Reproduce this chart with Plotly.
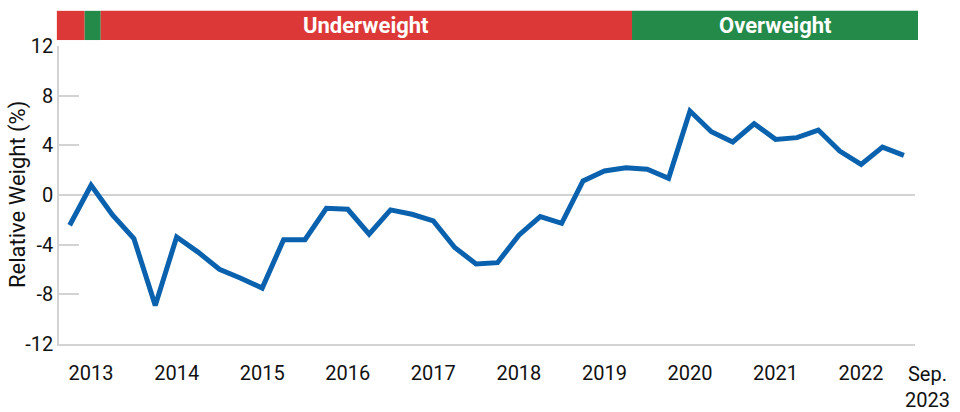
import plotly.graph_objects as go

# ---- data ----
x_idx = list(range(40))
rel_weight = [-2.44, 0.78, -1.6, -3.5, -8.9, -3.38, -4.6, -5.98, -6.7, -7.5,
              -3.6, -3.6, -1.07, -1.15, -3.16, -1.2, -1.55, -2.09, -4.23, -5.55,
              -5.45, -3.24, -1.74, -2.28, 1.13, 1.93, 2.2, 2.07, 1.34, 6.76,
              5.1, 4.27, 5.74, 4.48, 4.62, 5.23, 3.54, 2.47, 3.86, 3.19]
year_tick_pos = [1, 5, 9, 13, 17, 21, 25, 29, 33, 37]
year_tick_text = ["2013", "2014", "2015", "2016", "2017", "2018", "2019", "2020", "2021", "2022"]
last_label_pos = 40.1
last_label_text = "Sep.<br>2023"
y_ticks = [-12, -8, -4, 0, 4, 8, 12]

# band segments: (start, end, colour, label)
band_starts = [-0.6, 0.70, 1.45, 26.29]
band_ends = [0.70, 1.45, 26.29, 39.66]
band_colors = ["#DD3838", "#238A4A", "#DD3838", "#238A4A"]
band_labels = ["", "", "Underweight", "Overweight"]

FONT = "Roboto"
X_RANGE = [-0.5, 39.52]


def to_paper(v):
    return (v - X_RANGE[0]) / (X_RANGE[1] - X_RANGE[0])


fig = go.Figure()
fig.add_trace(go.Scatter(
    x=x_idx, y=rel_weight, mode="lines",
    line=dict(color="#0A61AD", width=5),
    hoverinfo="skip", showlegend=False,
))

shapes = []
annotations = []
for s, e, c, lab in zip(band_starts, band_ends, band_colors, band_labels):
    shapes.append(dict(type="rect", xref="paper", yref="paper", x0=to_paper(s), x1=to_paper(e),
                       y0=1.02, y1=1.118, fillcolor=c, line=dict(width=0), layer="above"))
    if lab:
        annotations.append(dict(x=to_paper((s + e) / 2), xref="paper", y=1.069, yref="paper",
                                text="<b>" + lab + "</b>", showarrow=False,
                                font=dict(family=FONT, size=22, color="white"),
                                xanchor="center", yanchor="middle"))

annotations.append(dict(x=to_paper(last_label_pos), xref="paper", y=-0.055, yref="paper",
                        text=last_label_text, showarrow=False, align="center",
                        font=dict(family=FONT, size=20, color="#111111"),
                        xanchor="center", yanchor="top"))
annotations.append(dict(x=(18 - 59) / 856, xref="paper", y=0.5, yref="paper",
                        text="Relative Weight (%)", showarrow=False, textangle=-90,
                        font=dict(family=FONT, size=22, color="#111111"),
                        xanchor="center", yanchor="middle"))

fig.update_layout(
    width=960, height=412,
    margin=dict(l=59, r=45, t=46, b=68, autoexpand=False),
    paper_bgcolor="white", plot_bgcolor="white",
    font=dict(family=FONT, size=20, color="#111111"),
    shapes=shapes, annotations=annotations,
    xaxis=dict(
        range=X_RANGE, automargin=False,
        tickmode="array", tickvals=year_tick_pos, ticktext=year_tick_text,
        showgrid=False, zeroline=False,
        showline=True, linecolor="#D3D3D3", linewidth=2,
        ticks="outside", ticklen=10, tickcolor="rgba(0,0,0,0)",
        tickfont=dict(family=FONT, size=20, color="#111111"),
    ),
    yaxis=dict(
        range=[-12, 12], automargin=False,
        tickmode="array", tickvals=y_ticks,
        ticktext=[str(v) for v in y_ticks],
        showgrid=False,
        zeroline=True, zerolinecolor="#D3D3D3", zerolinewidth=2,
        showline=True, linecolor="#D3D3D3", linewidth=1.5,
        ticks="inside", ticklen=20, tickcolor="#D3D3D3", tickwidth=2,
        tickfont=dict(family=FONT, size=20, color="#111111"),
    ),
)

fig.write_html("out.html")
